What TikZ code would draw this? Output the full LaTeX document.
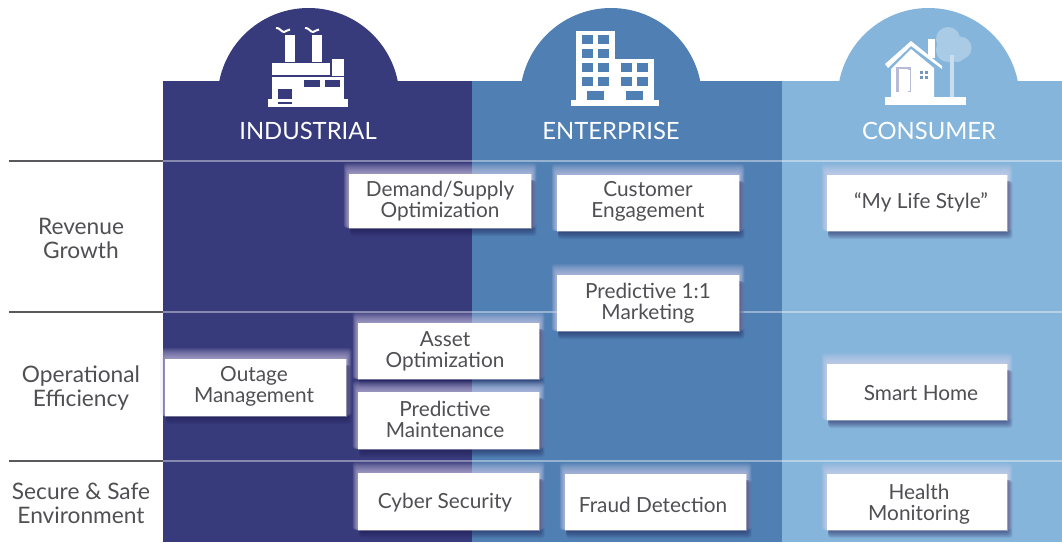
\documentclass[tikz,border=0pt]{standalone}
\usepackage{fontspec}
\setmainfont{Lato}
\definecolor{indc}{HTML}{373A7B}
\definecolor{entc}{HTML}{4F7FB3}
\definecolor{conc}{HTML}{85B5DB}
\definecolor{txtc}{HTML}{505054}
\definecolor{linec}{HTML}{5A5A5E}
\definecolor{treec}{HTML}{A9CBE6}
\definecolor{glowc}{HTML}{E6DCF5}
\definecolor{shadc}{HTML}{1E1A50}
\definecolor{doorc}{HTML}{B9B9D8}
\tikzset{
  head/.style={text=white,font=\fontsize{23.8}{26}\selectfont,anchor=center},
  rowlab/.style={text=txtc,font=\fontsize{22.7}{24}\selectfont,align=center,anchor=center,inner sep=0pt},
  cardtext/.style={text=txtc,align=center,anchor=center,inner sep=0pt,
    font=\fontsize{20.8}{21}\selectfont},
  icon/.style={fill=white,draw=none},
}
% x1 y1 x2 y2 name textx texty text
\newcommand{\card}[8]{%
  \foreach \e in {11,10,...,1}{
    \fill[glowc,opacity=.075,rounded corners=3pt] (#1-\e*.5,#2-\e) rectangle (#3+\e*.5,#4);
  }
  \foreach \e in {8,7,...,1}{
    \fill[shadc,opacity=.085,rounded corners=3pt] (#1+1,#2+6) rectangle (#3+\e*.7,#4+\e);
  }
  \draw[white,opacity=.35,line width=3pt] (#1+1,#2+1) rectangle (#3-1,#4-1);
  \fill[white] (#1,#2) rectangle (#3,#4);
  \node[cardtext] (#5) at (#6,#7) {#8};
}
\begin{document}
\begin{tikzpicture}[x=1pt,y=-1pt]
\useasboundingbox (0,0) rectangle (1062,542);
\fill[white] (0,0) rectangle (1062,542);
% bands
\fill[indc] (163,81) rectangle (472,542);
\fill[entc] (472,81) rectangle (782,542);
\fill[conc] (782,81) rectangle (1062,542);
% domes
\begin{scope}
 \clip (150,0) rectangle (1062,82);
 \fill[indc] (308.5,99) circle (91);
 \fill[entc] (611,99) circle (91);
 \fill[conc] (928.5,99) circle (91);
\end{scope}
% factory icon
\fill[icon] (284.5,35) rectangle (295,62);
\fill[icon] (312,35) rectangle (322,62);
\draw[white,line width=2pt] (276,28) .. controls (280,27.5) and (281,32) .. (284,32) .. controls (286,32) and (287,29.5) .. (290,29.5);
\draw[white,line width=2pt] (305,28) .. controls (309,27.5) and (310,32) .. (313,32) .. controls (315,32) and (316,29.5) .. (319,29.5);
\fill[icon] (272,63) rectangle (330,75);
\fill[icon] (332,59) rectangle (344,76);
\fill[icon] (272,77) rectangle (344,99);
\fill[indc] (304,80) rectangle (320,87);
\fill[indc] (325,80) rectangle (340,87);
\fill[indc] (278,89) rectangle (292,104);
\fill[icon] (268,99) rectangle (348,107);
\fill[indc] (278,98) rectangle (292,99);
\fill[indc] (278,102) rectangle (292,104);
% office icon
\fill[icon] (576,31) rectangle (615,101);
\fill[icon] (615,59) rectangle (654,101);
\fill[icon] (571,100) rectangle (659,106);
\foreach \xx in {582,598} \foreach \yy in {35,49,63,77}
  \fill[entc] (\xx,\yy) rectangle (\xx+11,\yy+9);
\foreach \xx in {621,637} \foreach \yy in {63,77}
  \fill[entc] (\xx,\yy) rectangle (\xx+11,\yy+9);
\fill[entc] (587,91) rectangle (604,100);
\fill[entc] (626,91) rectangle (643,100);
% house icon
\fill[treec] (948,39) circle (12) (960,48) circle (11.5) (948,50) circle (12) (957,54) circle (8);
\fill[white!55!conc] (950,55) rectangle (954,97);
\fill[icon] (928,39) rectangle (935,58);
\fill[icon] (885,64) -- (911,41) -- (942,66) -- (942,69) -- (911,46) -- (888,68) -- cycle;
\fill[icon] (891,69) -- (911,49) -- (934,68) -- (934,97) -- (891,97) -- cycle;
\fill[doorc] (896,67) rectangle (911,92);
\fill[white] (899,69) rectangle (908,93);
\fill[white] (908,70) rectangle (910,91);
\foreach \xx in {920,925} \foreach \yy in {71,76}
  \fill[entc!80!white] (\xx,\yy) rectangle (\xx+3,\yy+3);
\fill[icon] (885,97) rectangle (966,105);
% rules
\draw[linec,line width=1.4pt] (9,161) -- (163,161);
\draw[linec,line width=1.4pt] (9,312) -- (163,312);
\draw[linec,line width=1.4pt] (9,461) -- (163,461);
\draw[white,opacity=.4,line width=1.4pt] (163,161) -- (1062,161) (163,312) -- (1062,312) (163,461) -- (1062,461);
% headers
\node[head] (hi) at (308,131) {INDUSTRIAL};
\node[head] (he) at (611,131) {ENTERPRISE};
\node[head] (hc) at (929,131) {CONSUMER};
% row labels
\node[rowlab] (r1) at (81,238) {Revenue\\Growth};
\node[rowlab] (r2) at (81,388) {Operational\\Efficiency};
\node[rowlab] (r3) at (81,503) {Secure \& Safe\\Environment};
% cards
\card{349}{174}{531}{228}{c1}{440}{201.5}{Demand/Supply\\Optimization}
\card{557}{175}{739}{231}{c2}{648}{201.5}{Customer\\Engagement}
\card{827}{175}{1007}{231}{c3}{921}{202.5}{“My Life Style”}
\card{557}{275}{739}{331}{c4}{648}{303}{Predictive 1:1\\Marketing}
\card{358}{323}{539}{379}{c5}{445}{351}{Asset\\Optimization}
\card{165}{359}{346}{416}{c6}{254}{386.5}{Outage\\Management}
\card{358}{392}{539}{449}{c7}{445}{419}{Predictive\\Maintenance}
\card{827}{364}{1007}{420}{c8}{921}{393}{Smart Home}
\card{358}{473}{539}{530}{c9}{445}{503}{Cyber Security}
\card{565}{474}{746}{530}{c10}{653}{505}{Fraud Detection}
\card{827}{474}{1007}{530}{c11}{919}{504}{Health\\Monitoring}
\end{tikzpicture}
\end{document}
